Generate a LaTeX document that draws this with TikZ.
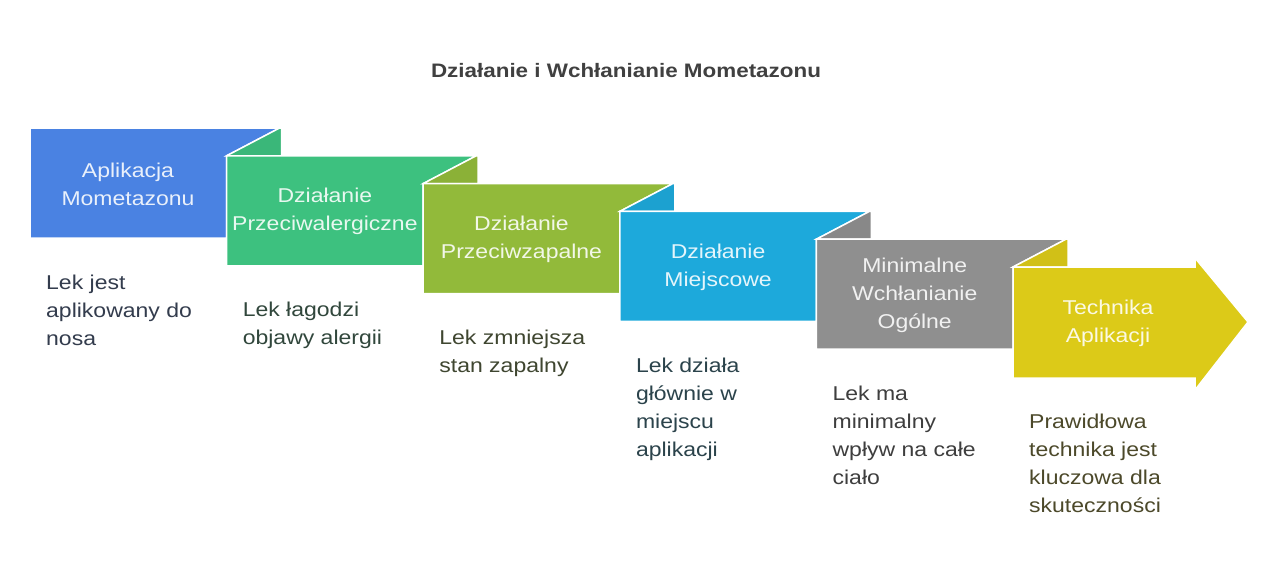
\documentclass[tikz,border=0pt]{standalone}
\usepackage{fontspec}
\setmainfont[FakeStretch=1.15]{Liberation Sans}
\begin{document}
\begin{tikzpicture}[x=1pt,y=-1pt,
  shapebox/.style={draw=white, line width=1.5pt, line join=miter},
  boxtext/.style={align=center, inner sep=0pt, font=\fontsize{20}{28}\selectfont},
  desctext/.style={align=left, inner sep=0pt, anchor=north west, font=\fontsize{20}{28}\selectfont},
  titletext/.style={inner sep=0pt, font=\fontsize{19.5}{23}\selectfont\bfseries, text=titlecol}]
\definecolor{titlecol}{RGB}{64,64,64}
\definecolor{c1}{RGB}{74,130,226}
\definecolor{c2}{RGB}{61,193,127}
\definecolor{c3}{RGB}{146,186,58}
\definecolor{c4}{RGB}{29,169,219}
\definecolor{c5}{RGB}{143,143,143}
\definecolor{c6}{RGB}{220,202,24}
\useasboundingbox[fill=white] (0,0) rectangle (1280,578);

\node[titletext] (title) at (626,71) {Działanie i Wchłanianie Mometazonu};

% ribbon shapes (boxes 1-5 with triangle, tabs of next)
\foreach \i/\col/\ncol in {0/c1/c2,1/c2/c3,2/c3/c4,3/c4/c5,4/c5/c6} {
  \pgfmathsetmacro\xa{30+196.6*\i}
  \pgfmathsetmacro\ya{128+27.8*\i}
  \pgfmathsetmacro\xb{\xa+196.6}
  \pgfmathsetmacro\yb{\ya+27.8}
  \pgfmathsetmacro\yc{\ya+110}
  \pgfmathsetmacro\xt{\xb+53}
  \pgfmathsetmacro\xu{\xb+55}
  \fill[\col, shapebox] (\xa,\ya) -- (\xt,\ya) -- (\xb,\yb) -- (\xb,\yc) -- (\xa,\yc) -- cycle;
  \fill[\ncol!95!black, shapebox] (\xb,\yb) -- (\xt,\ya) -- (\xu,\ya) -- (\xu,\yb) -- cycle;
}
% box 6 arrow
\fill[c6, shapebox] (1013,267) -- (1195,267) -- (1195,258) -- (1248,322) -- (1195,390) -- (1195,378) -- (1013,378) -- cycle;

% box labels
\node[boxtext, text=white!88!c1] (b1) at (128,184) {Aplikacja\\Mometazonu};
\node[boxtext, text=white!88!c2] (b2) at (324.9,211.8) {Działanie\\Przeciwalergiczne};
\node[boxtext, text=white!88!c3] (b3) at (521.5,239.6) {Działanie\\Przeciwzapalne};
\node[boxtext, text=white!88!c4] (b4) at (718.1,267.4) {Działanie\\Miejscowe};
\node[boxtext, text=white!88!c5] (b5) at (914.7,295.2) {Minimalne\\Wchłanianie\\Ogólne};
\node[boxtext, text=white!88!c6] (b6) at (1108,323) {Technika\\Aplikacji};

% descriptions
\node[desctext, text=c1!20!black!85!white] (d1) at (46,274.5) {Lek jest\\aplikowany do\\nosa};
\node[desctext, text=c2!20!black!85!white] (d2) at (242.6,302.3) {Lek łagodzi\\objawy alergii};
\node[desctext, text=c3!20!black!85!white] (d3) at (439.2,330.1) {Lek zmniejsza\\stan zapalny};
\node[desctext, text=c4!20!black!85!white] (d4) at (635.8,357.9) {Lek działa\\głównie w\\miejscu\\aplikacji};
\node[desctext, text=c5!20!black!85!white] (d5) at (832.4,385.7) {Lek ma\\minimalny\\wpływ na całe\\ciało};
\node[desctext, text=c6!20!black!85!white] (d6) at (1029,413.5) {Prawidłowa\\technika jest\\kluczowa dla\\skuteczności};
\end{tikzpicture}
\end{document}
